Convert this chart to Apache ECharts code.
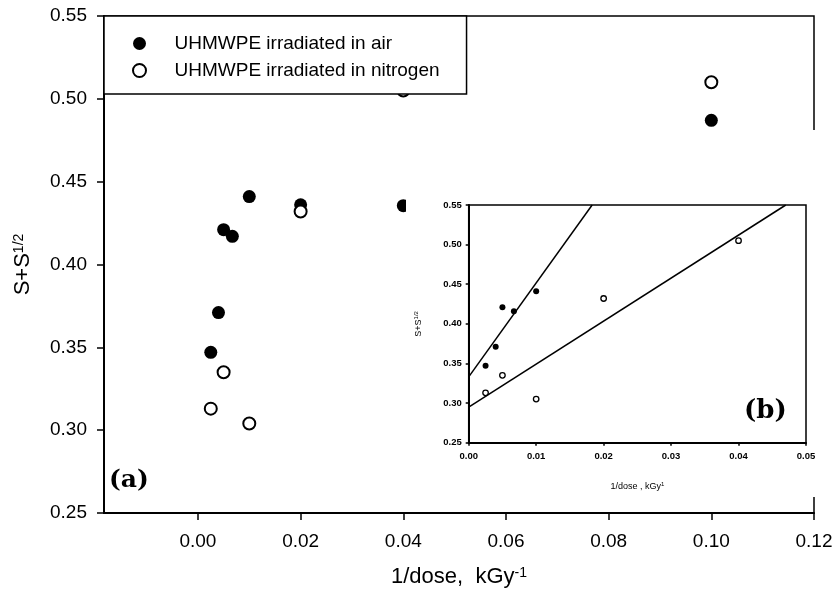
<!DOCTYPE html>
<html>
<head>
<meta charset="utf-8">
<script src="https://cdn.jsdelivr.net/npm/echarts@6/dist/echarts.min.js"></script>
<style>
  html, body { margin: 0; padding: 0; background: #fff; }
  #chart { width: 838px; height: 594px; }
</style>
</head>
<body>
<div id="chart"></div>
<script>
// main plot (a)
const airPoints = [
  [0.0025, 0.347], [0.004, 0.371], [0.005, 0.421], [0.0067, 0.417],
  [0.01, 0.441], [0.02, 0.436], [0.04, 0.4355], [0.1, 0.487]
];
const nitrogenPoints = [
  [0.0025, 0.313], [0.005, 0.335], [0.01, 0.304], [0.02, 0.432],
  [0.04, 0.505], [0.1, 0.51]
];
const mainXTicks = [0, 0.02, 0.04, 0.06, 0.08, 0.1, 0.12];

// inset (b)
const insetAir = [
  [0.0025, 0.347], [0.004, 0.371], [0.005, 0.421], [0.0067, 0.416], [0.01, 0.441]
];
const insetNitrogen = [
  [0.0025, 0.313], [0.005, 0.335], [0.01, 0.305], [0.02, 0.432], [0.04, 0.505]
];
const airFitLine = [[0, 0.333], [0.0183, 0.55]];
const nitrogenFitLine = [[0, 0.295], [0.047, 0.55]];

const FONT = 'Liberation Sans, Arial, sans-serif';
const fmt = v => v.toFixed(2);

const chart = echarts.init(document.getElementById('chart'), null, { renderer: 'canvas' });

const option = {
  backgroundColor: '#fff',
  animation: false,
  legend: {
    data: ['UHMWPE irradiated in air', 'UHMWPE irradiated in nitrogen'],
    orient: 'vertical',
    left: 104,
    top: 16,
    padding: [18, 27, 14, 28],
    itemGap: 8,
    itemWidth: 60,
    itemHeight: 13,
    backgroundColor: '#fff',
    borderColor: '#000',
    borderWidth: 1.5,
    selectedMode: false,
    textStyle: { fontFamily: FONT, fontSize: 19, color: '#000' }
  },
  grid: [
    {
      left: 104, top: 16, right: 24, bottom: 81,
      show: true, borderColor: '#000', borderWidth: 1.5
    },
    {
      left: 468.7, top: 205, right: 32, bottom: 151.3,
      show: true, borderColor: '#000', borderWidth: 1.5,
      zlevel: 1, z: 1
    }
  ],
  xAxis: [
    {
      gridIndex: 0,
      type: 'value',
      min: -0.0183,
      max: 0.12,
      name: '1/dose,  kGy{s|-1}',
      nameLocation: 'middle',
      nameGap: 53,
      nameTextStyle: {
        fontFamily: FONT, fontSize: 22, color: '#000',
        rich: { s: { fontFamily: FONT, fontSize: 14, color: '#000', verticalAlign: 'top' } }
      },
      axisLine: { onZero: false, lineStyle: { color: '#000', width: 2 } },
      axisTick: { customValues: mainXTicks, length: 7, lineStyle: { color: '#000', width: 1.5 } },
      axisLabel: {
        customValues: mainXTicks, formatter: fmt, margin: 19,
        fontFamily: FONT, fontSize: 19, color: '#000'
      },
      splitLine: { show: false }
    },
    {
      gridIndex: 1,
      type: 'value',
      min: 0,
      max: 0.05,
      interval: 0.01,
      zlevel: 1, z: 2,
      name: '1/dose , kGy{s|1}',
      nameLocation: 'middle',
      nameGap: 39,
      nameTextStyle: {
        fontFamily: FONT, fontSize: 9, color: '#000',
        rich: { s: { fontFamily: FONT, fontSize: 6, color: '#000', verticalAlign: 'top' } }
      },
      axisLine: { onZero: false, lineStyle: { color: '#000', width: 2 } },
      axisTick: { length: 3, lineStyle: { color: '#000', width: 1.5 } },
      axisLabel: {
        formatter: fmt, margin: 9,
        fontFamily: FONT, fontSize: 9.5, fontWeight: 'bold', color: '#000'
      },
      splitLine: { show: false }
    }
  ],
  yAxis: [
    {
      gridIndex: 0,
      type: 'value',
      min: 0.25,
      max: 0.55,
      interval: 0.05,
      name: '{b|S+S}{s|1/2}',
      nameLocation: 'middle',
      nameGap: 70,
      nameTextStyle: {
        rich: {
          b: { fontFamily: FONT, fontSize: 22, color: '#000' },
          s: { fontFamily: FONT, fontSize: 14, color: '#000', verticalAlign: 'top' }
        }
      },
      axisLine: { onZero: false, lineStyle: { color: '#000', width: 2 } },
      axisTick: { length: 7, lineStyle: { color: '#000', width: 1.5 } },
      axisLabel: { formatter: fmt, margin: 17, fontFamily: FONT, fontSize: 19, color: '#000' },
      splitLine: { show: false }
    },
    {
      gridIndex: 1,
      type: 'value',
      min: 0.25,
      max: 0.55,
      interval: 0.05,
      zlevel: 1, z: 2,
      name: '{b|S+S}{s|1/2}',
      nameLocation: 'middle',
      nameGap: 46,
      nameTextStyle: {
        rich: {
          b: { fontFamily: FONT, fontSize: 9, color: '#000' },
          s: { fontFamily: FONT, fontSize: 6, color: '#000', verticalAlign: 'top' }
        }
      },
      axisLine: { onZero: false, lineStyle: { color: '#000', width: 2 } },
      axisTick: { length: 3, lineStyle: { color: '#000', width: 1.5 } },
      axisLabel: {
        formatter: fmt, margin: 7,
        fontFamily: FONT, fontSize: 9.5, fontWeight: 'bold', color: '#000'
      },
      splitLine: { show: false }
    }
  ],
  graphic: [
    {
      type: 'rect', zlevel: 1, z: 0, silent: true,
      shape: { x: 406, y: 130, width: 420, height: 367 },
      style: { fill: '#fff' }
    },
    {
      type: 'text', left: 109, top: 468, z: 10,
      style: { text: '(a)', fontFamily: 'DejaVu Serif', fontWeight: 'bold', fontSize: 25, fill: '#000' }
    },
    {
      type: 'text', left: 744, top: 398, zlevel: 1, z: 10,
      style: { text: '(b)', fontFamily: 'DejaVu Serif', fontWeight: 'bold', fontSize: 26, fill: '#000' }
    }
  ],
  series: [
    {
      name: 'UHMWPE irradiated in air',
      type: 'scatter',
      xAxisIndex: 0, yAxisIndex: 0,
      symbol: 'circle', symbolSize: 13,
      itemStyle: { color: '#000', borderColor: '#000', borderWidth: 0, opacity: 1 },
      data: airPoints
    },
    {
      name: 'UHMWPE irradiated in nitrogen',
      type: 'scatter',
      xAxisIndex: 0, yAxisIndex: 0,
      symbol: 'circle', symbolSize: 12,
      itemStyle: { color: '#fff', borderColor: '#000', borderWidth: 2, opacity: 1 },
      data: nitrogenPoints
    },
    {
      name: 'air fit',
      type: 'line',
      xAxisIndex: 1, yAxisIndex: 1,
      zlevel: 1, z: 3,
      showSymbol: false,
      lineStyle: { color: '#000', width: 1.5 },
      data: airFitLine
    },
    {
      name: 'nitrogen fit',
      type: 'line',
      xAxisIndex: 1, yAxisIndex: 1,
      zlevel: 1, z: 3,
      showSymbol: false,
      lineStyle: { color: '#000', width: 1.5 },
      data: nitrogenFitLine
    },
    {
      name: 'air inset',
      type: 'scatter',
      xAxisIndex: 1, yAxisIndex: 1,
      zlevel: 1, z: 4,
      symbol: 'circle', symbolSize: 6,
      itemStyle: { color: '#000', opacity: 1 },
      data: insetAir
    },
    {
      name: 'nitrogen inset',
      type: 'scatter',
      xAxisIndex: 1, yAxisIndex: 1,
      zlevel: 1, z: 4,
      symbol: 'circle', symbolSize: 5.5,
      itemStyle: { color: '#fff', borderColor: '#000', borderWidth: 1.3, opacity: 1 },
      data: insetNitrogen
    }
  ]
};

chart.setOption(option);
</script>
</body>
</html>
